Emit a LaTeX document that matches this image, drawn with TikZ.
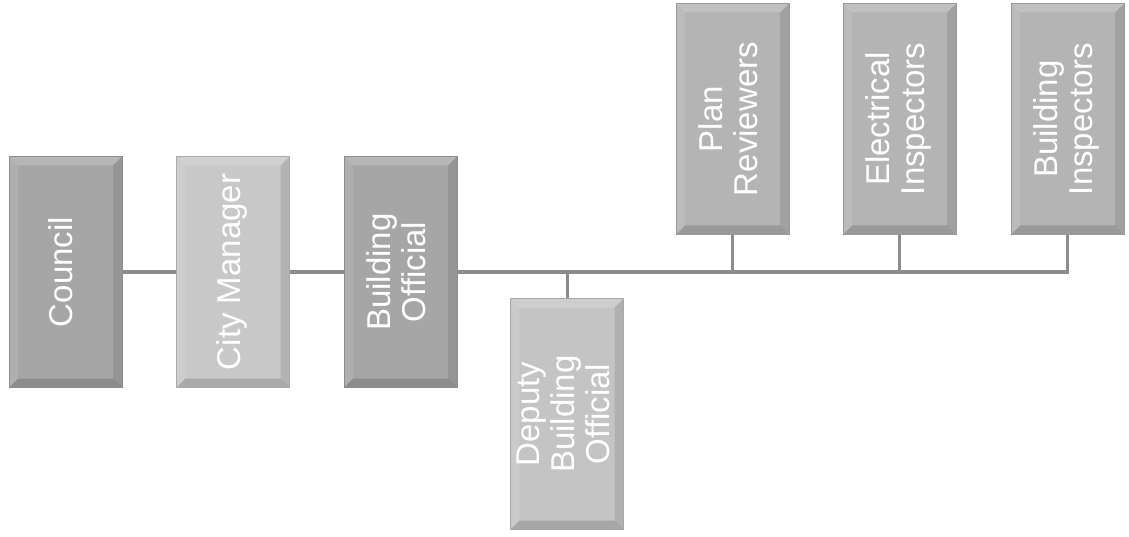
\documentclass[tikz,border=0pt]{standalone}
\usepackage{fontspec}
\setmainfont{Liberation Sans}
\definecolor{cdark}{RGB}{166,166,166}
\definecolor{clight}{RGB}{200,200,200}
\definecolor{cmid}{RGB}{180,180,180}
\definecolor{cdep}{RGB}{196,196,196}
\definecolor{cline}{RGB}{140,140,140}
\tikzset{
  bevelbox/.style={fill=#1, draw=#1!85!black, line width=0.6pt, minimum width=113pt, minimum height=231pt, inner sep=0pt,
    text=white, font=\fontsize{33}{35}\selectfont,
    path picture={
      \fill[white, opacity=0.18] (path picture bounding box.north west) -- (path picture bounding box.north east)
        -- ([xshift=-9pt,yshift=-9pt]path picture bounding box.north east) -- ([xshift=9pt,yshift=-9pt]path picture bounding box.north west) -- cycle;
      \fill[white, opacity=0.10] (path picture bounding box.north west) -- (path picture bounding box.south west)
        -- ([xshift=9pt,yshift=9pt]path picture bounding box.south west) -- ([xshift=9pt,yshift=-9pt]path picture bounding box.north west) -- cycle;
      \fill[black, opacity=0.10] (path picture bounding box.north east) -- (path picture bounding box.south east)
        -- ([xshift=-9pt,yshift=9pt]path picture bounding box.south east) -- ([xshift=-9pt,yshift=-9pt]path picture bounding box.north east) -- cycle;
      \fill[black, opacity=0.15] (path picture bounding box.south west) -- (path picture bounding box.south east)
        -- ([xshift=-9pt,yshift=9pt]path picture bounding box.south east) -- ([xshift=9pt,yshift=9pt]path picture bounding box.south west) -- cycle;
    }},
  conn/.style={draw=cline, line width=3pt}
}
\newcommand{\vtext}[1]{\rotatebox{90}{\begin{tabular}{@{}c@{}}#1\end{tabular}}}
\begin{document}
\begin{tikzpicture}[x=1pt,y=-1pt]
\useasboundingbox[fill=white] (0,0) rectangle (1129,537);
\node[bevelbox=cdark] (council) at (65.5,272) {\vtext{Council}};
\node[bevelbox=clight] (city) at (233,272) {\vtext{City Manager}};
\node[bevelbox=cdark] (bo) at (400.5,272) {\vtext{Building\\Official}};
\node[bevelbox=cdep] (dep) at (567,414) {\vtext{Deputy\\Building\\Official}};
\node[bevelbox=cmid] (pr) at (732.5,119) {\vtext{Plan\\Reviewers}};
\node[bevelbox=cmid] (ei) at (899.5,119) {\vtext{Electrical\\Inspectors}};
\node[bevelbox=cmid] (bi) at (1067.5,119) {\vtext{Building\\Inspectors}};
\draw[conn] (council.east) -- (city.west);
\draw[conn] (city.east) -- (bo.west);
\draw[conn] (bo.east) -| (bi.south);
\draw[conn] (dep.north) -- (dep.north |- bo.east);
\draw[conn] (pr.south) -- (pr.south |- bo.east);
\draw[conn] (ei.south) -- (ei.south |- bo.east);
\end{tikzpicture}
\end{document}
